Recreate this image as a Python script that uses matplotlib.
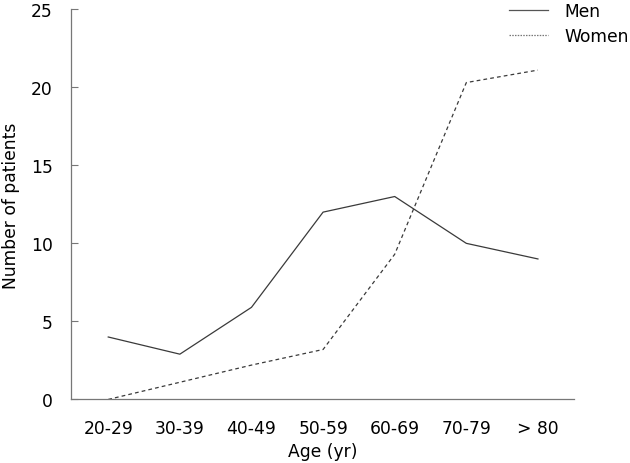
import matplotlib
matplotlib.use("Agg")
import matplotlib.pyplot as plt
from matplotlib.lines import Line2D

categories = ["20-29", "30-39", "40-49", "50-59", "60-69", "70-79", "> 80"]
men = [4, 2.9, 5.9, 12, 13, 10, 9]
women = [0, 1.1, 2.2, 3.2, 9.3, 20.3, 21.1]
yticks = [0, 5, 10, 15, 20, 25]

plt.rcParams['font.family'] = ['DejaVu Sans']
fs = 12.3
fig = plt.figure(figsize=(6.3, 4.64), dpi=100)
ax = fig.add_axes([0.1127, 0.137, 0.798, 0.841])

x = list(range(len(categories)))
ax.plot(x, men, color="#3a3a3a", lw=0.9, label="Men")
ax.plot(x, women, color="#3a3a3a", lw=0.9, ls=(0, (3, 2.5)), label="Women")

ax.set_xlim(-0.52, 6.5)
ax.set_ylim(0, 25)
ax.set_yticks(yticks)
ax.set_xticks(x)
ax.set_xticklabels(categories)
for s in ["top", "right"]:
    ax.spines[s].set_visible(False)
for s in ["left", "bottom"]:
    ax.spines[s].set_color("#777777")
    ax.spines[s].set_linewidth(0.9)
ax.tick_params(axis="y", direction="in", length=5, color="#777777", pad=13, labelsize=fs)
ax.tick_params(axis="x", length=0, pad=14, labelsize=fs)
ax.set_xlabel("Age (yr)", fontsize=fs, labelpad=4)
ax.set_ylabel("Number of patients", fontsize=fs, labelpad=8)

handles = [Line2D([], [], color="#555555", lw=0.9),
           Line2D([], [], color="#777777", lw=0.9, ls=(0, (1.2, 1)))]
leg = ax.legend(handles, ["Men", "Women"], loc="upper right",
                bbox_to_anchor=(1.14, 1.058), frameon=False,
                fontsize=fs, handlelength=2.3, handletextpad=0.95, labelspacing=0.4)

fig.savefig("out.png", dpi=100)
